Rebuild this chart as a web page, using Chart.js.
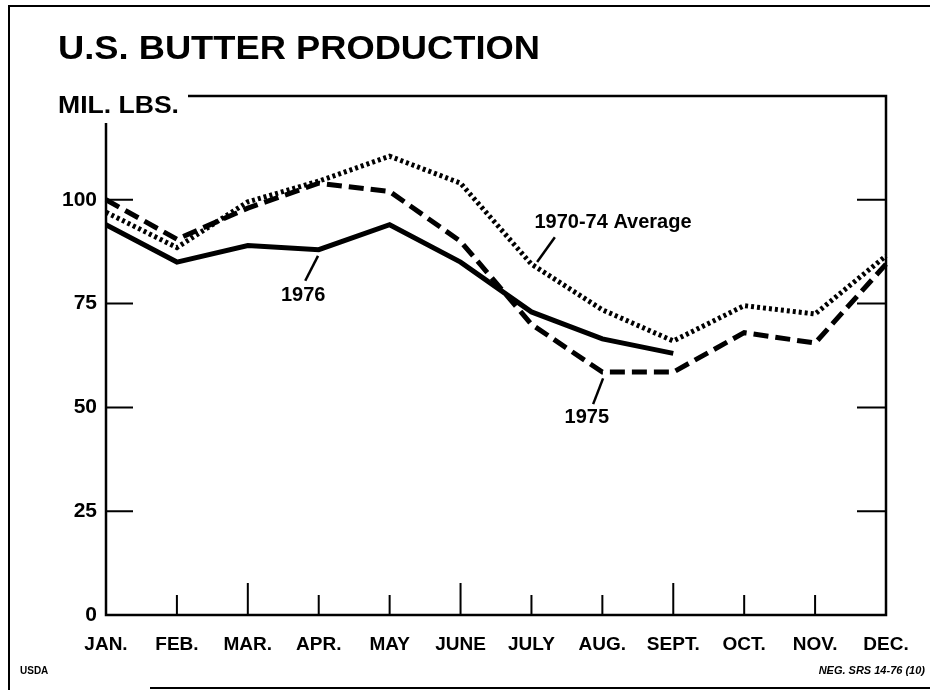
<!DOCTYPE html>
<html lang="en">
<head>
  <meta charset="UTF-8" />
  <title>U.S. Butter Production</title>
  <script src="https://cdn.jsdelivr.net/npm/chart.js"></script>
  <style>
    body {
      margin: 0;
      padding: 0;
      background: #ffffff;
    }
    canvas {
      display: block;
    }
  </style>
</head>
<body>
  <canvas id="butterChart" width="930" height="690"></canvas>

  <script>
    // Data (million lbs.)
    const months = ['JAN.', 'FEB.', 'MAR.', 'APR.', 'MAY', 'JUNE', 'JULY', 'AUG.', 'SEPT.', 'OCT.', 'NOV.', 'DEC.'];
    const prod1976 = [94, 85, 89, 88, 94, 85, 73, 66.5, 63];
    const prod1975 = [100, 90.5, 98, 104, 102, 90, 70, 58.5, 58.5, 68, 65.5, 84.5];
    const avg1970to74 = [97, 88.5, 99.5, 104.5, 110.5, 104, 84.5, 73.5, 66, 74.5, 72.5, 86.5];
    const yTicks = [0, 25, 50, 75, 100];
    const yMax = 125;

    // Labels placed in data units (month index, mil. lbs.)
    const callouts = [
      { text: '1976', at: [2.78, 77], from: [2.99, 86.5], to: [2.81, 80.5] },
      { text: '1970-74 Average', at: [7.15, 94.5], from: [6.33, 91], to: [6.08, 85] },
      { text: '1975', at: [6.78, 47.5], from: [7.01, 57], to: [6.87, 50.8] }
    ];

    const FONT = '"Liberation Sans", Arial, Helvetica, sans-serif';

    // draws text squeezed/stretched to a given width (the original lettering is wide)
    function wideText(ctx, text, x, y, width) {
      const w = ctx.measureText(text).width;
      ctx.save();
      ctx.translate(x, y);
      ctx.scale(width / w, 1);
      ctx.fillText(text, 0, 0);
      ctx.restore();
    }

    const decorations = {
      id: 'decorations',
      afterDraw(chart) {
        const ctx = chart.ctx;
        const { left, right, top, bottom } = chart.chartArea;
        const x = chart.scales.x;
        const y = chart.scales.y;

        ctx.save();
        ctx.fillStyle = '#000';
        ctx.strokeStyle = '#000';
        ctx.lineCap = 'butt';

        // page border
        ctx.lineWidth = 2;
        ctx.beginPath();
        ctx.moveTo(9, 690);
        ctx.lineTo(9, 6);
        ctx.lineTo(930, 6);
        ctx.moveTo(150, 688);
        ctx.lineTo(930, 688);
        ctx.stroke();

        // title + unit
        ctx.textBaseline = 'alphabetic';
        ctx.textAlign = 'left';
        ctx.font = 'bold 34px ' + FONT;
        wideText(ctx, 'U.S. BUTTER PRODUCTION', 58, 59, 482);
        ctx.font = 'bold 23px ' + FONT;
        wideText(ctx, 'MIL. LBS.', 58, 113, 121);
        const unitEnd = 58 + 121 + 9;

        // plot frame (open at top-left for the unit label)
        ctx.lineWidth = 2.5;
        ctx.beginPath();
        ctx.moveTo(unitEnd, top);
        ctx.lineTo(right, top);
        ctx.lineTo(right, bottom);
        ctx.lineTo(left, bottom);
        ctx.lineTo(left, top + 27);
        ctx.stroke();

        // inward ticks
        ctx.lineWidth = 2;
        ctx.beginPath();
        yTicks.slice(1).forEach(v => {
          const py = y.getPixelForValue(v);
          ctx.moveTo(left, py);
          ctx.lineTo(left + 27, py);
          ctx.moveTo(right, py);
          ctx.lineTo(right - 29, py);
        });
        for (let i = 1; i < months.length - 1; i++) {
          const px = x.getPixelForValue(i);
          const len = (i % 3 === 2) ? 32 : 20;
          ctx.moveTo(px, bottom);
          ctx.lineTo(px, bottom - len);
        }
        ctx.stroke();

        // callouts
        ctx.font = 'bold 20px ' + FONT;
        ctx.textAlign = 'center';
        ctx.textBaseline = 'middle';
        ctx.lineWidth = 2.5;
        callouts.forEach(c => {
          ctx.fillText(c.text, x.getPixelForValue(c.at[0]), y.getPixelForValue(c.at[1]));
          ctx.beginPath();
          ctx.moveTo(x.getPixelForValue(c.from[0]), y.getPixelForValue(c.from[1]));
          ctx.lineTo(x.getPixelForValue(c.to[0]), y.getPixelForValue(c.to[1]));
          ctx.stroke();
        });

        // footer notes
        ctx.textBaseline = 'alphabetic';
        ctx.textAlign = 'left';
        ctx.font = 'bold 10px ' + FONT;
        ctx.fillText('USDA', 20, 674);
        ctx.textAlign = 'right';
        ctx.font = 'italic bold 11px ' + FONT;
        ctx.fillText('NEG. SRS 14-76 (10)', 925, 674);

        ctx.restore();
      }
    };

    new Chart(document.getElementById('butterChart'), {
      type: 'line',
      data: {
        labels: months,
        datasets: [
          {
            label: '1970-74 Average',
            data: avg1970to74,
            borderColor: '#000',
            borderWidth: 5,
            borderDash: [3, 3],
            borderCapStyle: 'butt',
            pointRadius: 0,
            tension: 0,
            fill: false
          },
          {
            label: '1975',
            data: prod1975,
            borderColor: '#000',
            borderWidth: 5,
            borderDash: [15, 7],
            borderCapStyle: 'butt',
            pointRadius: 0,
            tension: 0,
            fill: false
          },
          {
            label: '1976',
            data: prod1976,
            borderColor: '#000',
            borderWidth: 5,
            borderCapStyle: 'butt',
            pointRadius: 0,
            tension: 0,
            fill: false
          }
        ]
      },
      options: {
        responsive: false,
        animation: false,
        devicePixelRatio: 1,
        layout: {
          padding: { top: 96, right: 44, left: 0, bottom: 0 }
        },
        plugins: {
          legend: { display: false },
          title: { display: false },
          tooltip: { enabled: false }
        },
        scales: {
          x: {
            type: 'category',
            offset: false,
            grid: { display: false, drawTicks: false },
            border: { display: false },
            ticks: {
              autoSkip: false,
              maxRotation: 0,
              minRotation: 0,
              color: '#000',
              padding: 18,
              font: { family: FONT, size: 19, weight: 'bold' }
            },
            afterFit(scale) { scale.height = 75; }
          },
          y: {
            min: 0,
            max: yMax,
            grid: { display: false, drawTicks: false },
            border: { display: false },
            ticks: {
              stepSize: 25,
              color: '#000',
              padding: 9,
              font: { family: FONT, size: 21, weight: 'bold' },
              callback: v => (yTicks.includes(v) ? v : '')
            },
            afterFit(scale) { scale.width = 106; }
          }
        }
      },
      plugins: [decorations]
    });
  </script>
</body>
</html>
